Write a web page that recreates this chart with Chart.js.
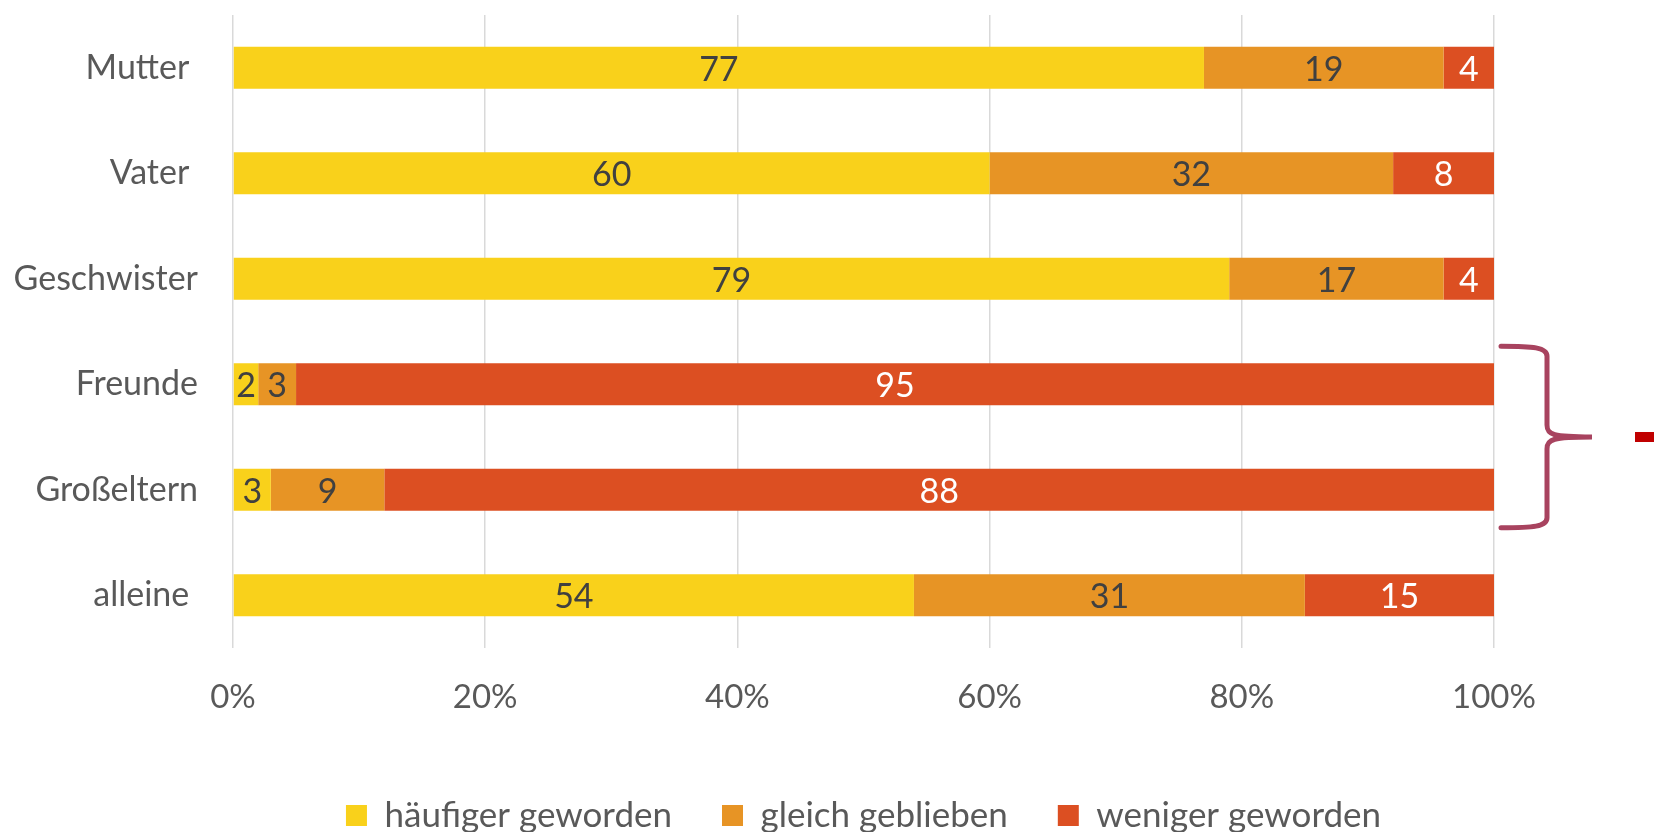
<!DOCTYPE html>
<html>
<head>
<meta charset="utf-8">
<script src="https://cdn.jsdelivr.net/npm/chart.js@4"></script>
<style>
  html, body { margin: 0; padding: 0; background: #fff; }
  #wrap { width: 1654px; height: 832px; }
</style>
</head>
<body>
<div id="wrap"><canvas id="grafico" width="1654" height="832"></canvas></div>
<script>
// Daten
const kategorien = ["Mutter ", "Vater ", "Geschwister", "Freunde", "Großeltern", "alleine "];
const haeufiger = [77, 60, 79, 2, 3, 54];
const gleich = [19, 32, 17, 3, 9, 31];
const weniger = [4, 8, 4, 95, 88, 15];
const xTicks = [0, 20, 40, 60, 80, 100];

const schrift = "Lato, 'Open Sans', sans-serif";

// Werte in die Balken schreiben
const wertePlugin = {
    id: "werte",
    afterDatasetsDraw(chart) {
        const ctx = chart.ctx;
        ctx.save();
        ctx.font = "34px " + schrift;
        ctx.textAlign = "center";
        ctx.textBaseline = "middle";
        chart.data.datasets.forEach((ds, i) => {
            chart.getDatasetMeta(i).data.forEach((bar, j) => {
                const mitte = (bar.x + bar.base) / 2;
                ctx.fillStyle = ds.labelColor;
                ctx.fillText(ds.data[j], mitte, bar.y + 2);
            });
        });
        ctx.restore();
    }
};

// geschweifte Klammer rechts neben Freunde / Großeltern
const klammerPlugin = {
    id: "klammer",
    afterDraw(chart) {
        const ctx = chart.ctx;
        const y = chart.scales.y;
        const r = chart.chartArea.right;
        const oben = y.getPixelForValue(3) - 38;
        const unten = y.getPixelForValue(4) + 38;
        const mitte = (oben + unten) / 2;
        const x0 = r + 7, x1 = r + 53, x2 = r + 98;
        ctx.save();
        ctx.strokeStyle = "#A8435F";
        ctx.lineWidth = 5;
        ctx.lineCap = "round";
        ctx.beginPath();
        ctx.moveTo(x0, oben);
        ctx.bezierCurveTo(x0 + 32, oben, x1, oben + 1, x1, oben + 10);
        ctx.lineTo(x1, mitte - 12);
        ctx.bezierCurveTo(x1, mitte - 2, x1 + 6, mitte, x2, mitte);
        ctx.bezierCurveTo(x1 + 6, mitte, x1, mitte + 2, x1, mitte + 12);
        ctx.lineTo(x1, unten - 10);
        ctx.bezierCurveTo(x1, unten - 1, x0 + 32, unten, x0, unten);
        ctx.stroke();
        ctx.fillStyle = "#C00000";
        ctx.fillRect(r + 141, mitte - 5, 19, 10);
        ctx.restore();
    }
};

new Chart(document.getElementById("grafico"), {
    type: "bar",
    data: {
        labels: kategorien,
        datasets: [
            { label: "häufiger geworden", data: haeufiger, backgroundColor: "#F9D11B", labelColor: "#404040" },
            { label: "gleich geblieben", data: gleich, backgroundColor: "#E79425", labelColor: "#404040" },
            { label: "weniger geworden", data: weniger, backgroundColor: "#DC4F22", labelColor: "#FFFFFF" }
        ]
    },
    options: {
        indexAxis: "y",
        responsive: false,
        animation: false,
        layout: { padding: { top: 15, right: 160, left: 0, bottom: -11 } },
        datasets: { bar: { categoryPercentage: 0.4, barPercentage: 1 } },
        plugins: {
            legend: {
                position: "bottom",
                fullSize: false,
                labels: {
                    boxWidth: 21,
                    boxHeight: 21,
                    padding: 50,
                    color: "#595959",
                    font: { family: schrift, size: 35 }
                }
            },
            tooltip: { enabled: false }
        },
        scales: {
            x: {
                stacked: true,
                min: 0,
                max: 100,
                afterBuildTicks(scale) { scale.ticks = xTicks.map(v => ({ value: v })); },
                afterFit(scale) { scale.height = 100; },
                grid: { color: "#D9D9D9", lineWidth: 1.5, drawTicks: false },
                border: { display: false },
                ticks: {
                    padding: 30,
                    color: "#595959",
                    font: { family: schrift, size: 33 },
                    callback: v => v + "%"
                }
            },
            y: {
                stacked: true,
                afterFit(scale) {
                    scale.width = 233;
                    scale.paddingTop = 0;
                    scale.paddingBottom = 0;
                },
                grid: { display: false },
                border: { display: false },
                ticks: {
                    padding: 27,
                    color: "#595959",
                    font: { family: schrift, size: 34 }
                }
            }
        }
    },
    plugins: [wertePlugin, klammerPlugin]
});
</script>
</body>
</html>
